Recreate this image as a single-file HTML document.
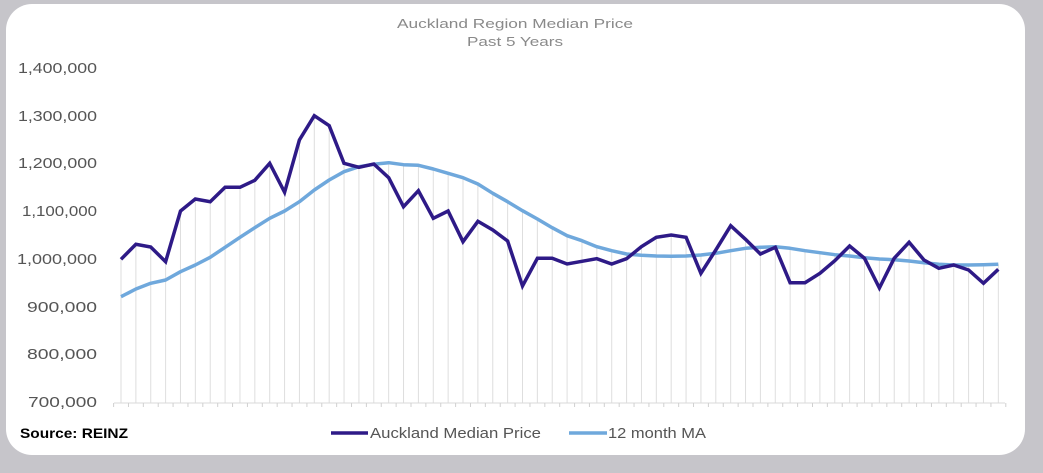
<!DOCTYPE html>
<html><head><meta charset="utf-8"><style>
html,body{margin:0;padding:0;background:#c6c5ca;}
body{width:1043px;height:473px;position:relative;overflow:hidden;font-family:"Liberation Sans",sans-serif;}
.card{position:absolute;left:6px;top:4px;width:1019px;height:451px;background:#fff;border-radius:26px;}
svg{position:absolute;left:0;top:0;}
</style></head><body>
<div class="card"></div>
<svg id="s" width="1043" height="473" xmlns="http://www.w3.org/2000/svg" font-family="Liberation Sans, sans-serif">
<text x="397" y="28" font-size="13" fill="#8a8a8a" textLength="236" lengthAdjust="spacingAndGlyphs">Auckland Region Median Price</text>
<text x="467" y="46" font-size="13" fill="#8a8a8a" textLength="96" lengthAdjust="spacingAndGlyphs">Past 5 Years</text>
<g font-size="15" fill="#555">
<text x="18" y="73" textLength="79" lengthAdjust="spacingAndGlyphs">1,400,000</text>
<text x="18" y="121" textLength="79" lengthAdjust="spacingAndGlyphs">1,300,000</text>
<text x="18" y="168" textLength="79" lengthAdjust="spacingAndGlyphs">1,200,000</text>
<text x="22" y="216" textLength="75" lengthAdjust="spacingAndGlyphs">1,100,000</text>
<text x="17" y="264" textLength="80" lengthAdjust="spacingAndGlyphs">1,000,000</text>
<text x="27" y="312" textLength="70" lengthAdjust="spacingAndGlyphs">900,000</text>
<text x="27" y="359" textLength="70" lengthAdjust="spacingAndGlyphs">800,000</text>
<text x="28" y="407" textLength="69" lengthAdjust="spacingAndGlyphs">700,000</text>
</g>
<g id="grid"></g>
<line x1="114" y1="403" x2="1005" y2="403" stroke="#d9d9d9" stroke-width="1"/>
<g id="ticks"></g>
<polyline id="ma" fill="none" stroke="#6fa8dc" stroke-width="3.5" stroke-linejoin="round"/>
<polyline id="dk" fill="none" stroke="#2e1a87" stroke-width="3.5" stroke-linejoin="miter"/>
<text x="20" y="438" font-size="14" font-weight="bold" fill="#000" textLength="108" lengthAdjust="spacingAndGlyphs">Source: REINZ</text>
<line x1="331" y1="433" x2="368" y2="433" stroke="#2e1a87" stroke-width="3.5"/>
<text x="370" y="438" font-size="14.5" fill="#555" textLength="171" lengthAdjust="spacingAndGlyphs">Auckland Median Price</text>
<line x1="569" y1="433" x2="607" y2="433" stroke="#6fa8dc" stroke-width="3.5"/>
<text x="608" y="438" font-size="14.5" fill="#555" textLength="98" lengthAdjust="spacingAndGlyphs">12 month MA</text>
</svg>
<script>
var d=[259.3,244.3,247,261.7,211,199,201.7,187.3,187.3,180.3,163.3,192.3,140,115.7,125.7,163.3,167.3,164,177.7,206.7,190.7,218.3,211,241.7,221.3,230,241,286,258.3,258.3,264,261.3,258.7,264,258.7,246.7,237.3,235,237.3,273.3,250,225.7,239.3,254,247.3,282.7,282.7,273.3,260.7,246,258.3,288,258.3,242.3,260,268.3,265,270,283.3,269.3];
var m=[296.7,289,283.3,280,271.7,265,257.3,247.3,237.3,227.7,218.3,211,201.7,190,180,171.7,166.7,164.3,162.7,164.7,165.3,169,173.3,177.7,184,193.3,201.7,210.7,219,227.7,235.7,240.7,246.7,250.7,254,255.3,256,256.3,256,255,253.3,250.7,248.3,247.3,246.7,248.3,250.7,252.7,254.7,256,257.7,259,259.7,261,262.7,264.3,265,265,264.7,264.3];
var ns="http://www.w3.org/2000/svg",g=document.getElementById('grid'),t=document.getElementById('ticks');
var pd=[],pm=[];
for(var i=0;i<60;i++){var x=121+i*14.87;pd.push(x.toFixed(1)+','+d[i]);pm.push(x.toFixed(1)+','+m[i]);
var l=document.createElementNS(ns,'line');l.setAttribute('x1',x);l.setAttribute('x2',x);l.setAttribute('y1',Math.min(d[i],m[i]));l.setAttribute('y2',403);l.setAttribute('stroke','#dedede');l.setAttribute('stroke-width','1');g.appendChild(l);}
for(var i=0;i<=60;i++){var x=113.6+i*14.87;var l=document.createElementNS(ns,'line');l.setAttribute('x1',x);l.setAttribute('x2',x);l.setAttribute('y1',403);l.setAttribute('y2',407);l.setAttribute('stroke','#d0d0d0');t.appendChild(l);}
document.getElementById('dk').setAttribute('points',pd.join(' '));
document.getElementById('ma').setAttribute('points',pm.join(' '));
</script>
</body></html>
